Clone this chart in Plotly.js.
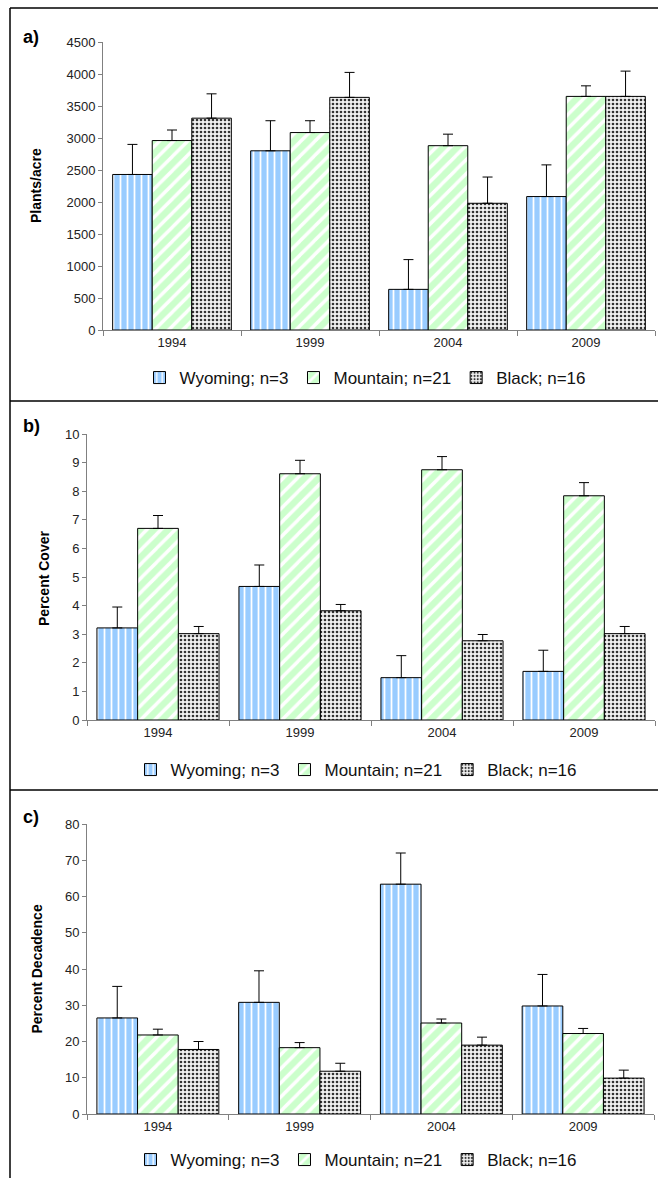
<!DOCTYPE html>
<html>
<head>
<meta charset="utf-8">
<script src="https://cdn.plot.ly/plotly-3.0.1.min.js"></script>
<style>
html,body{margin:0;padding:0;background:#fff;}
#chart{width:658px;height:1178px;}
</style>
</head>
<body>
<div id="chart"></div>
<script>
// ---- data ----
var years = ['1994', '1999', '2004', '2009'];
var seriesNames = ['Wyoming; n=3', 'Mountain; n=21', 'Black; n=16'];

// a) Plants/acre
var plantsWyoming = [2430, 2800, 635, 2085];
var plantsWyomingErr = [470, 470, 465, 495];
var plantsMountain = [2960, 3085, 2880, 3650];
var plantsMountainErr = [165, 185, 180, 165];
var plantsBlack = [3310, 3635, 1980, 3650];
var plantsBlackErr = [380, 390, 410, 395];

// b) Percent Cover
var coverWyoming = [3.22, 4.67, 1.48, 1.70];
var coverWyomingErr = [0.73, 0.75, 0.77, 0.74];
var coverMountain = [6.70, 8.61, 8.75, 7.84];
var coverMountainErr = [0.45, 0.47, 0.46, 0.46];
var coverBlack = [3.02, 3.82, 2.77, 3.02];
var coverBlackErr = [0.25, 0.22, 0.22, 0.25];

// c) Percent Decadence
var decWyoming = [26.5, 30.8, 63.4, 29.8];
var decWyomingErr = [8.7, 8.7, 8.6, 8.7];
var decMountain = [21.8, 18.3, 25.1, 22.2];
var decMountainErr = [1.6, 1.4, 1.1, 1.4];
var decBlack = [17.8, 11.8, 19.0, 9.9];
var decBlackErr = [2.2, 2.2, 2.2, 2.2];

// ---- styling ----
var W = 658, H = 1178;
var FONT = 'Liberation Sans, Arial, sans-serif';
function px(x) { return x / W; }
function py(y) { return 1 - y / H; }

var styles = [
  {color: '#99CCFF', pattern: {shape: '|', fgcolor: '#ffffff', bgcolor: '#99CCFF', size: 7, solidity: 0.25}},
  {color: '#CCFFCC', pattern: {shape: '/', fgcolor: '#ffffff', bgcolor: '#CCFFCC', size: 10, solidity: 0.35}},
  {color: '#e0e0e0', pattern: {shape: '.', fgcolor: '#333333', bgcolor: '#f2f2f2', size: 4, solidity: 0.35}}
];

function makeTrace(i, vals, errs, xa, ya, leg) {
  return {
    type: 'bar', x: years, y: vals, name: seriesNames[i],
    xaxis: xa, yaxis: ya, legend: leg,
    marker: {color: styles[i].color, pattern: styles[i].pattern, line: {color: '#000', width: 1}},
    error_y: {type: 'data', symmetric: false, array: errs, color: '#000', thickness: 1, width: 5},
    hoverinfo: 'none'
  };
}

var data = [
  makeTrace(0, plantsWyoming, plantsWyomingErr, 'x', 'y', 'legend'),
  makeTrace(1, plantsMountain, plantsMountainErr, 'x', 'y', 'legend'),
  makeTrace(2, plantsBlack, plantsBlackErr, 'x', 'y', 'legend'),
  makeTrace(0, coverWyoming, coverWyomingErr, 'x2', 'y2', 'legend2'),
  makeTrace(1, coverMountain, coverMountainErr, 'x2', 'y2', 'legend2'),
  makeTrace(2, coverBlack, coverBlackErr, 'x2', 'y2', 'legend2'),
  makeTrace(0, decWyoming, decWyomingErr, 'x3', 'y3', 'legend3'),
  makeTrace(1, decMountain, decMountainErr, 'x3', 'y3', 'legend3'),
  makeTrace(2, decBlack, decBlackErr, 'x3', 'y3', 'legend3')
];

function xAxis(d0, d1, anchor) {
  return {
    domain: [px(d0), px(d1)], anchor: anchor, type: 'category',
    tickson: 'boundaries', ticks: 'outside', ticklen: 5, tickcolor: '#808080',
    showline: true, linecolor: '#808080', linewidth: 1,
    showgrid: false, zeroline: false, fixedrange: true,
    tickfont: {family: FONT, size: 13, color: '#222'}
  };
}
function yAxis(top, bottom, anchor, maxv, step) {
  return {
    domain: [py(bottom), py(top)], anchor: anchor, range: [0, maxv], dtick: step, tick0: 0,
    ticks: 'outside', ticklen: 4, tickcolor: '#808080',
    showline: true, linecolor: '#808080', linewidth: 1,
    showgrid: false, zeroline: false, fixedrange: true,
    tickfont: {family: FONT, size: 13, color: '#222'}
  };
}
function legendAt(xc, yc) {
  return {
    orientation: 'h', x: px(xc), xanchor: 'center', y: py(yc), yanchor: 'middle',
    font: {family: FONT, size: 17, color: '#111'}, bgcolor: 'rgba(0,0,0,0)',
    itemwidth: 30, tracegroupgap: 0, traceorder: 'normal'
  };
}
function lineShape(x0, y0, x1, y1) {
  return {type: 'line', xref: 'paper', yref: 'paper', x0: px(x0), y0: py(y0), x1: px(x1), y1: py(y1),
          line: {color: '#000', width: 1.5}};
}
function ann(text, x, y, size, angle) {
  return {text: text, xref: 'paper', yref: 'paper', x: px(x), y: py(y), xanchor: 'center', yanchor: 'middle',
          showarrow: false, textangle: angle || 0, font: {family: FONT, size: size, color: '#000'}};
}

var layout = {
  width: W, height: H,
  margin: {l: 0, r: 0, t: 0, b: 0},
  paper_bgcolor: '#fff', plot_bgcolor: 'rgba(0,0,0,0)',
  font: {family: FONT},
  barmode: 'group', bargap: 0.14, bargroupgap: 0,
  xaxis: xAxis(103, 655, 'y'),
  yaxis: yAxis(42, 330, 'x', 4500, 500),
  xaxis2: xAxis(87, 655, 'y2'),
  yaxis2: yAxis(434, 720, 'x2', 10, 1),
  xaxis3: xAxis(87, 654, 'y3'),
  yaxis3: yAxis(824, 1114, 'x3', 80, 10),
  legend: legendAt(365, 378),
  legend2: legendAt(356, 770),
  legend3: legendAt(356, 1160),
  shapes: [
    lineShape(10, 8, 658, 8),
    lineShape(10, 401, 658, 401),
    lineShape(10, 790, 658, 790),
    lineShape(10, 8, 10, 1178)
  ],
  annotations: [
    ann('<b>a)</b>', 31, 37, 18),
    ann('<b>b)</b>', 31, 426, 18),
    ann('<b>c)</b>', 31, 817, 18),
    ann('<b>Plants/acre</b>', 36, 186, 14, -90),
    ann('<b>Percent Cover</b>', 44, 579, 14, -90),
    ann('<b>Percent Decadence</b>', 36.5, 969, 14, -90)
  ]
};

Plotly.newPlot('chart', data, layout, {displayModeBar: false, staticPlot: true});
</script>
</body>
</html>
